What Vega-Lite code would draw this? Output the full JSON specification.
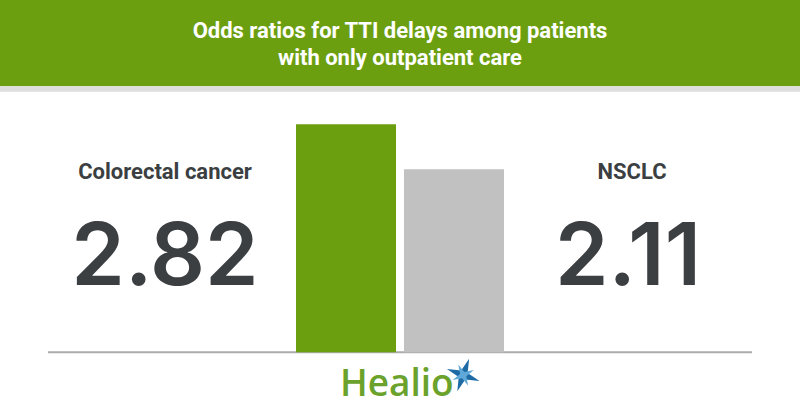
{
  "$schema": "https://vega.github.io/schema/vega-lite/v6.json",
  "width": 800,
  "height": 420,
  "autosize": {"type": "fit", "contains": "padding"},
  "padding": 0,
  "background": "#ffffff",
  "config": {"view": {"stroke": null}, "axis": {"disable": true}},
  "datasets": {
    "odds": [
      {"group": "Colorectal cancer", "odds_ratio": 2.82},
      {"group": "NSCLC", "odds_ratio": 2.11}
    ],
    "blank": [{}]
  },
  "data": {"name": "odds"},
  "layer": [
    {
      "data": {"name": "blank"},
      "mark": {"type": "rect", "color": "#6c9f10"},
      "encoding": {
        "y": {"datum": 4.78, "type": "quantitative", "scale": {"domain": [-1.85, 4.78], "nice": false, "zero": false}},
        "y2": {"datum": 3.42}
      }
    },
    {
      "data": {"name": "blank"},
      "mark": {"type": "rect", "color": "#dedede"},
      "encoding": {
        "y": {"datum": 3.42, "type": "quantitative"},
        "y2": {"datum": 3.33}
      }
    },
    {
      "data": {"name": "blank"},
      "mark": {"type": "text", "text": ["Odds ratios for TTI delays among patients", "with only outpatient care"], "font": "Roboto", "fontWeight": "bold", "fontSize": 22, "lineHeight": 27, "color": "#ffffff", "align": "center", "baseline": "middle"},
      "encoding": {
        "y": {"datum": 4.29, "type": "quantitative"}
      }
    },
    {
      "data": {"name": "blank"},
      "mark": {"type": "rule", "color": "#ababab", "strokeWidth": 2},
      "encoding": {
        "x": {"datum": 6, "type": "quantitative", "scale": {"domain": [0, 100], "nice": false}},
        "x2": {"datum": 94},
        "y": {"datum": -0.78, "type": "quantitative"}
      }
    },
    {
      "mark": {"type": "bar"},
      "encoding": {
        "x": {"field": "group", "type": "nominal", "scale": {"type": "band", "range": [296, 504], "paddingInner": 0.074, "paddingOuter": 0}},
        "y": {"field": "odds_ratio", "type": "quantitative"},
        "y2": {"datum": -0.78},
        "color": {"field": "group", "type": "nominal", "scale": {"domain": ["Colorectal cancer", "NSCLC"], "range": ["#6c9f10", "#c1c1c1"]}, "legend": null}
      }
    },
    {
      "mark": {"type": "text", "font": "Roboto", "fontWeight": "bold", "fontSize": 22, "color": "#3b3f42", "align": "center", "baseline": "middle"},
      "encoding": {
        "x": {"field": "group", "type": "nominal", "scale": {"type": "point", "range": [165, 632], "padding": 0}},
        "y": {"datum": 2.065, "type": "quantitative"},
        "text": {"field": "group"}
      }
    },
    {
      "mark": {"type": "text", "font": "Inter", "fontWeight": 600, "fontSize": 86, "color": "#3b3f42", "align": "center", "baseline": "middle"},
      "encoding": {
        "x": {"field": "group", "type": "nominal", "scale": {"type": "point", "range": [165, 628], "padding": 0}},
        "y": {"datum": 0.69, "type": "quantitative"},
        "text": {"field": "odds_ratio", "type": "quantitative", "format": ".2f"}
      }
    },
    {
      "data": {"name": "blank"},
      "mark": {"type": "text", "text": "Healio", "font": "Open Sans", "fontWeight": 600, "fontSize": 37, "color": "#6aa22c", "align": "center", "baseline": "middle"},
      "encoding": {
        "x": {"datum": 49.6, "type": "quantitative", "scale": {"domain": [0, 100], "nice": false}},
        "y": {"datum": -1.3, "type": "quantitative"}
      }
    },
    {
      "data": {"name": "blank"},
      "mark": {"type": "point", "shape": "M0,-1L0.2,-0.2L1,0L0.2,0.2L0,1L-0.2,0.2L-1,0L-0.2,-0.2Z", "filled": true, "color": "#1d6aa5", "size": 1200, "angle": 20, "opacity": 1},
      "encoding": {
        "x": {"datum": 57.9, "type": "quantitative", "scale": {"domain": [0, 100], "nice": false}},
        "y": {"datum": -1.14, "type": "quantitative"}
      }
    },
    {
      "data": {"name": "blank"},
      "mark": {"type": "point", "shape": "M0,-1L0.2,-0.2L1,0L0.2,0.2L0,1L-0.2,0.2L-1,0L-0.2,-0.2Z", "filled": true, "color": "#5fa8d8", "size": 550, "angle": 65, "opacity": 1},
      "encoding": {
        "x": {"datum": 57.9, "type": "quantitative", "scale": {"domain": [0, 100], "nice": false}},
        "y": {"datum": -1.14, "type": "quantitative"}
      }
    }
  ],
  "resolve": {"scale": {"x": "independent"}}
}
